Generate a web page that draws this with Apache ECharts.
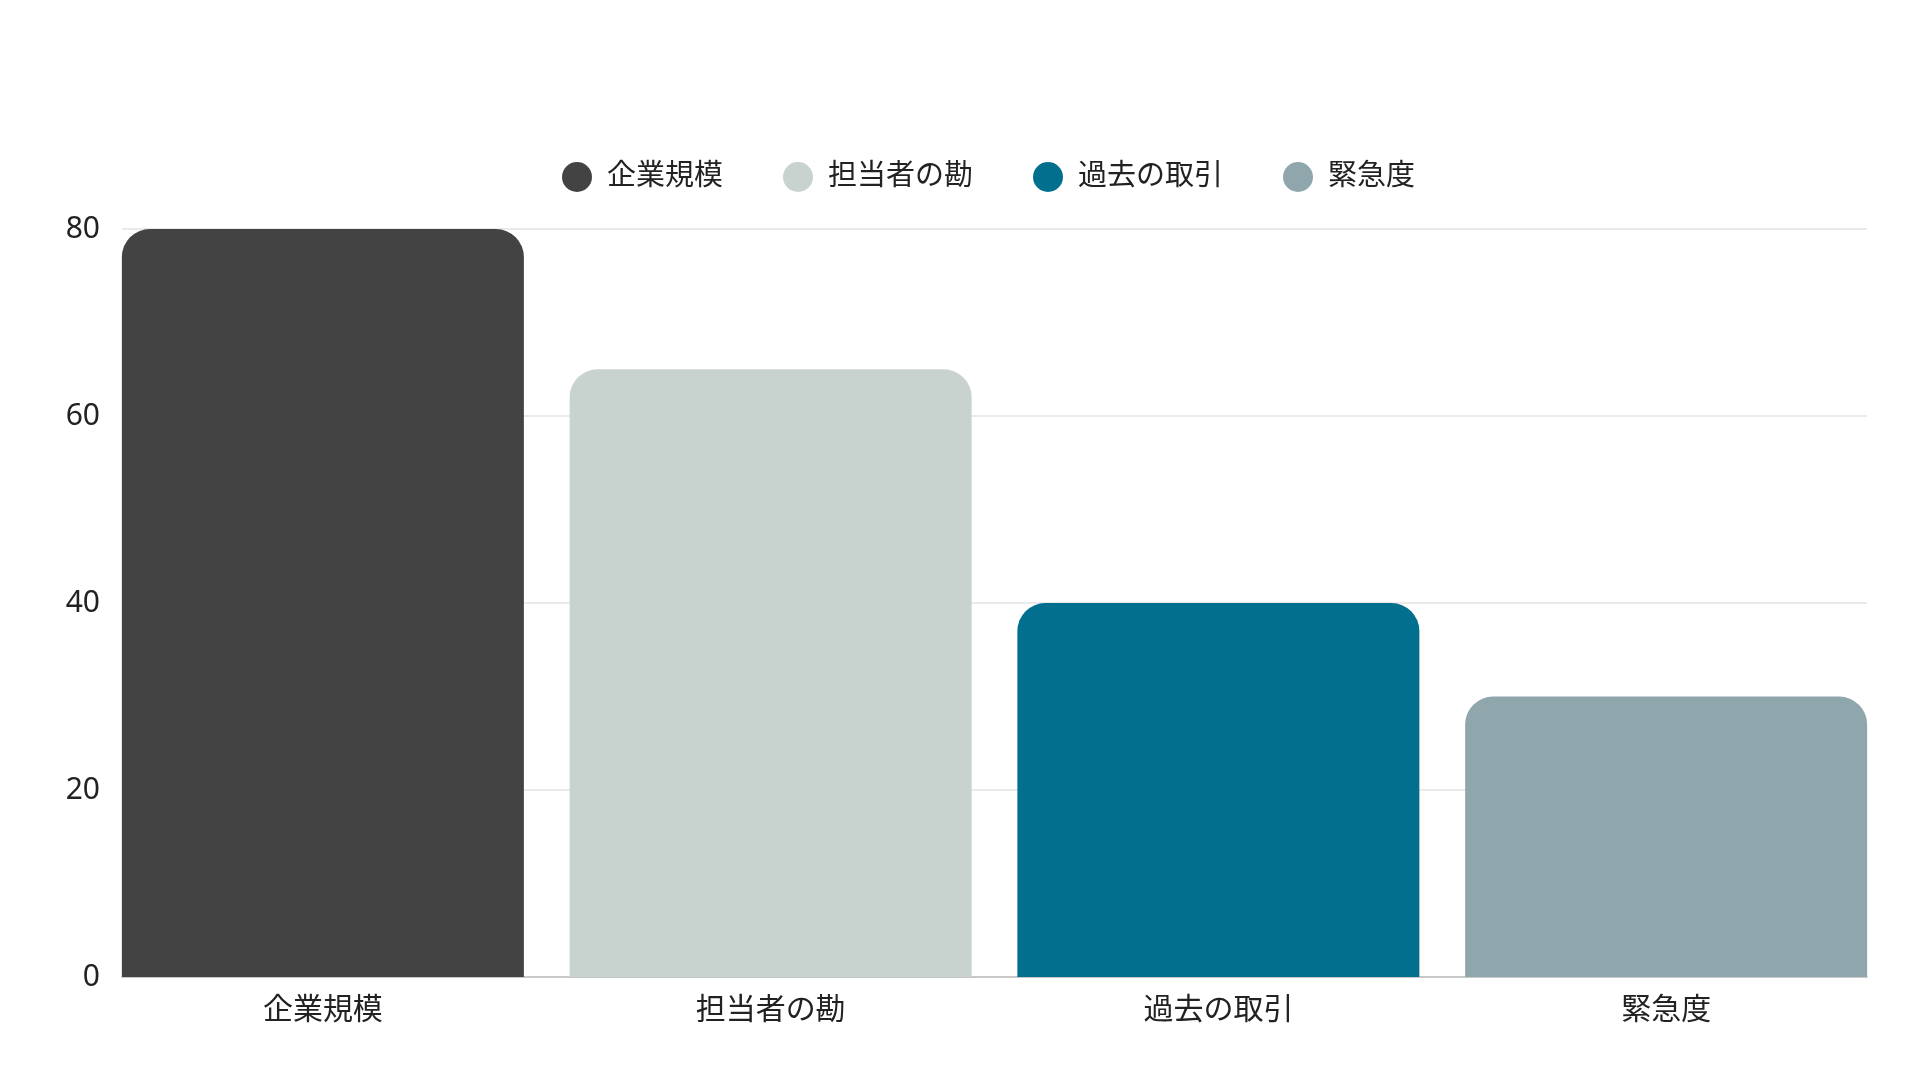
<!DOCTYPE html>
<html>
<head>
<meta charset="utf-8">
<style>
html,body{margin:0;padding:0;background:#fff;}
#chart{width:1920px;height:1080px;}
</style>
<script src="https://cdn.jsdelivr.net/npm/echarts@6/dist/echarts.min.js"></script>
</head>
<body>
<div id="chart"></div>
<script>
const categories = ['企業規模', '担当者の勘', '過去の取引', '緊急度'];
const values = [80, 65, 40, 30];
const colors = ['#434343', '#c8d3d0', '#026f8f', '#8fa6ad'];
const yTicks = [0, 20, 40, 60, 80];

const FONT = '"Noto Sans", "Noto Sans CJK JP", sans-serif';
const chart = echarts.init(document.getElementById('chart'));

const series = categories.map((name, i) => ({
  name: name,
  type: 'bar',
  xAxisIndex: 0,
  yAxisIndex: 0,
  barWidth: 402,
  barGap: '-100%',
  itemStyle: { color: colors[i], borderRadius: [28, 28, 0, 0] },
  data: values.map((v, j) => (j === i ? v : '-')),
  emphasis: { disabled: true }
}));

chart.setOption({
  animation: false,
  backgroundColor: '#ffffff',
  legend: {
    left: 557,
    top: 157,
    icon: 'circle',
    itemWidth: 30,
    itemHeight: 30,
    itemGap: 60,
    textStyle: { fontFamily: FONT, fontSize: 29, color: '#222', padding: [0, 0, 0, 10] },
    data: categories
  },
  grid: [
    { left: 99, right: 30, top: 229, bottom: 103 },
    { left: 122, right: 53, top: 229, bottom: 103 }
  ],
  xAxis: [
    {
      type: 'category', gridIndex: 0, data: categories,
      axisLine: { show: false }, axisTick: { show: false },
      axisLabel: { fontFamily: FONT, fontSize: 30, color: '#222', margin: 18 }
    },
    {
      type: 'category', gridIndex: 1, data: categories,
      axisLine: { show: true, lineStyle: { color: '#bdbdbd', width: 1.5 } },
      axisTick: { show: false }, axisLabel: { show: false }
    }
  ],
  yAxis: [
    {
      type: 'value', gridIndex: 0, min: yTicks[0], max: yTicks[yTicks.length - 1], interval: 20,
      axisLine: { show: false }, axisTick: { show: false },
      axisLabel: { show: false }, splitLine: { show: false }
    },
    {
      type: 'value', gridIndex: 1, min: yTicks[0], max: yTicks[yTicks.length - 1], interval: 20,
      axisLine: { show: false }, axisTick: { show: false },
      axisLabel: { fontFamily: FONT, fontSize: 30, color: '#222', margin: 22, padding: [10, 0, 0, 0] },
      splitLine: { show: true, lineStyle: { color: '#e3e3e3', width: 1.5 } }
    }
  ],
  series: series
});
</script>
</body>
</html>
